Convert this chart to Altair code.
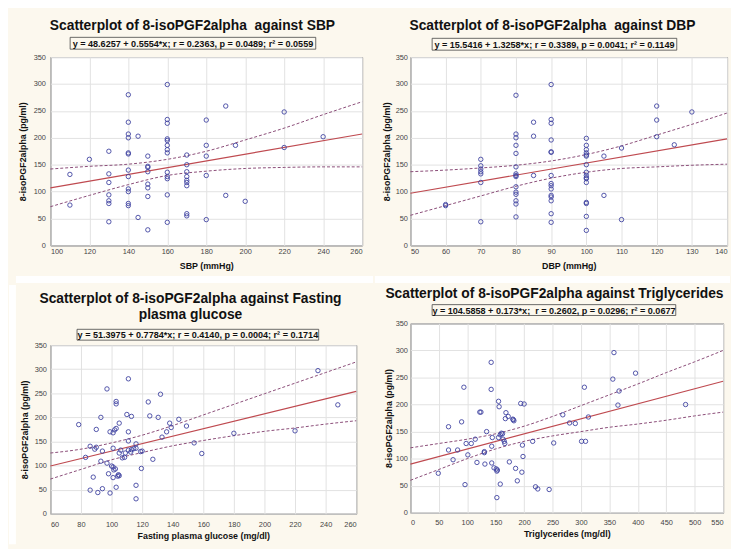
import altair as alt
import pandas as pd

FONT = "Liberation Sans"
CREAM = "#FCF8EE"
PT = "#3F43A0"
FIT = "#BF4A50"
CI = "#8A4C78"

y_ticks = [0, 50, 100, 150, 200, 250, 300, 350]

# ---- SBP panel ----
sbp_x = [110, 110, 120,
         130, 130, 130, 130, 130, 130, 130,
         140, 140, 140, 140, 140, 140, 140, 140, 140, 140, 140, 140,
         145, 145,
         150, 150, 150, 150, 150, 150, 150, 150,
         160, 160, 160, 160, 160, 160, 160, 160, 160, 160, 160, 160, 160,
         170, 170, 170, 170, 170, 170, 170, 170, 170,
         180, 180, 180, 180, 180,
         190, 190, 195, 200, 220, 220, 240]
sbp_y = [75, 132, 160,
         175, 133, 117, 94, 83, 78, 44,
         280, 229, 207, 200, 172, 170, 140, 128, 105, 100, 78, 74,
         203, 52,
         166, 147, 145, 137, 114, 107, 91, 29,
         299, 234, 227, 198, 195, 186, 178, 172, 136, 128, 124, 94, 43,
         168, 150, 137, 128, 121, 117, 111, 59, 55,
         233, 186, 166, 130, 48,
         259, 93, 186, 82, 248, 182, 202]
sbp_ticks = [100, 120, 140, 160, 180, 200, 220, 240, 260]
sbp_fit_x = [100, 260]
sbp_fit_y = [107, 207]
sbp_band_x = [100, 120, 140, 160, 180, 200, 220, 240, 260]
sbp_upper = [142, 147, 151, 160, 175, 196, 218, 243, 267]
sbp_lower = [72, 93, 113, 130, 138, 143, 145, 146, 146]

# ---- DBP panel ----
dbp_x = [60, 60,
         70, 70, 70, 70, 70, 70, 70,
         80, 80, 80, 80, 80, 80, 80, 80, 80, 80, 80, 80, 80, 80, 80,
         85, 85, 85,
         90, 90, 90, 90, 90, 90, 90, 90, 90, 90, 90, 90, 90, 90, 90,
         100, 100, 100, 100, 100, 100, 100, 100, 100, 100, 100, 100, 100, 100, 100, 100,
         105, 105, 110, 110, 120, 120, 120, 125, 130]
dbp_y = [74, 76,
         160, 148, 142, 137, 133, 117, 44,
         279, 207, 200, 186, 171, 146, 133, 130, 128, 109, 99, 95, 83, 77, 53,
         229, 203, 130,
         299, 234, 227, 196, 174, 173, 130, 115, 111, 105, 93, 90, 83, 59, 43,
         199, 186, 178, 172, 168, 166, 150, 136, 130, 126, 124, 117, 80, 78, 54, 28,
         166, 93, 181, 48, 259, 233, 202, 187, 248]
dbp_ticks = [50, 60, 70, 80, 90, 100, 110, 120, 130, 140]
dbp_fit_x = [50, 140]
dbp_fit_y = [97, 198]
dbp_band_x = [50, 60, 70, 80, 90, 100, 110, 120, 130, 140]
dbp_upper = [137, 140, 144, 149, 157, 169, 185, 205, 225, 246]
dbp_lower = [56, 74, 92, 110, 125, 136, 143, 146, 149, 151]

# ---- Fasting plasma glucose panel ----
fpg_x = [78.5, 83, 86, 86, 88, 89, 90, 90, 91, 93, 93, 94, 94, 97, 97, 98, 99, 99,
         100, 101, 101, 101, 101, 101.5, 102, 102.5, 103, 103, 103, 103, 104, 104.5,
         105, 105, 105, 106, 107, 108.5, 109, 110, 111, 111, 111, 111, 112.5, 113, 113,
         114.5, 116, 116, 116, 116, 119, 119.5, 120, 124, 125, 127, 130.5, 132, 133,
         136, 138, 139, 144, 149, 154, 159, 180, 220, 235, 248]
fpg_y = [185, 117, 49, 140, 76, 134, 138, 175, 44, 109, 200, 130, 52, 259, 105, 83, 170, 43,
         99, 97, 136, 168, 75, 91, 174, 93, 233, 228, 177, 55, 78, 81,
         188, 126, 79, 132, 116, 117, 126, 206, 132, 280, 170, 151, 128, 133, 202,
         135, 59, 145, 31, 136, 129, 94, 130, 232, 203, 113, 200, 248, 159,
         170, 188, 179, 196, 182, 147, 125, 167, 172, 297, 226]
fpg_ticks = [60, 80, 100, 120, 140, 160, 180, 200, 220, 240, 260]
fpg_fit_x = [60, 260]
fpg_fit_y = [99, 254]
fpg_band_x = [60, 80, 100, 120, 140, 160, 180, 200, 220, 240, 260]
fpg_upper = [126, 134, 147, 163, 183, 205, 227, 249, 271, 293, 315]
fpg_lower = [72, 92, 112, 127, 141, 152, 162, 171, 178, 186, 193]

# ---- Triglycerides panel ----
tg_x = [49, 67, 67, 75, 83, 90, 94, 96, 98, 101, 107, 114, 117, 122, 124, 130, 130, 131,
        134, 142, 142, 144, 143, 143, 147, 151, 152, 152, 153, 155, 155, 156, 158, 158,
        160, 162, 163, 165, 166, 168, 167, 172, 174, 180, 181, 182, 185, 188, 194, 196,
        197, 198, 200, 215, 220, 224, 244, 252, 268, 280, 290, 301, 308, 306, 313, 356,
        358, 367, 365, 396, 484]
tg_y = [73, 159, 116, 98, 116, 168, 232, 52, 128, 107, 128, 136, 93, 186, 186, 113, 111, 90,
        150, 278, 228, 139, 123, 92, 83, 81, 77, 28, 79, 139, 206, 196, 53, 144,
        147, 146, 136, 132, 128, 185, 174, 178, 94, 173, 172, 170, 82, 59, 202, 75,
        125, 104, 201, 132, 48, 44, 43, 129, 181, 166, 165, 132, 132, 232, 177, 247,
        296, 225, 199, 258, 200]
tg_ticks = [0, 50, 100, 150, 200, 250, 300, 350, 400, 450, 500, 550]
tg_fit_x = [0, 550]
tg_fit_y = [90, 243]
tg_band_x = [0, 50, 100, 150, 200, 250, 300, 350, 400, 450, 500, 550]
tg_upper = [120, 128, 136, 146, 160, 178, 198, 218, 238, 259, 279, 300]
tg_lower = [60, 80, 100, 118, 132, 142, 150, 158, 164, 171, 179, 186]

Y_TITLE = "8-isoPGF2alpha (pg/ml)"


def panel(px, py, xdom, xticks, fitx, fity, bx, bup, blo, W, H, L, T, R, B,
          titles, title_cx, title_ys, eq, box, xtitle,
          xlabpad, xtitlepad, ylabpad, ytitlepad, gap_bottom=0, gap_left=0):
    pts = pd.DataFrame({"x": px, "y": py})
    fit = pd.DataFrame({"x": fitx, "y": fity})
    band = pd.DataFrame({"x": bx + bx, "y": bup + blo,
                         "band": ["upper"] * len(bx) + ["lower"] * len(bx)})
    one = pd.DataFrame({"k": [0]})

    xs = alt.Scale(domain=xdom, nice=False, zero=False)
    ys = alt.Scale(domain=[0, 350], nice=False)
    common = dict(grid=True, gridColor="#E2E2E2", gridWidth=1, domain=False,
                  ticks=False, tickSize=0, format="d", minExtent=0,
                  labelFont=FONT, labelFontSize=7.5, labelColor="#444",
                  titleFont=FONT, titleFontSize=9, titleFontWeight="bold",
                  titleColor="#111")
    xaxis = alt.Axis(values=xticks, title=xtitle, labelPadding=xlabpad,
                     titlePadding=xtitlepad, **common)
    yaxis = alt.Axis(values=y_ticks, title=Y_TITLE, labelPadding=ylabpad,
                     titlePadding=ytitlepad, **common)
    X = alt.X("x:Q", scale=xs, axis=xaxis)
    Y = alt.Y("y:Q", scale=ys, axis=yaxis)

    layers = []
    # tiny background-coloured corners that fix the panel's outer bounds
    layers.append(alt.Chart(one).mark_rect(color=CREAM).encode(
        x=alt.value(-L), x2=alt.value(-L + 1), y=alt.value(-T), y2=alt.value(-T + 1)))
    layers.append(alt.Chart(one).mark_rect(color=CREAM).encode(
        x=alt.value(W + R - 1), x2=alt.value(W + R), y=alt.value(H + B - 1), y2=alt.value(H + B)))
    if gap_bottom:
        layers.append(alt.Chart(one).mark_rect(color="white").encode(
            x=alt.value(-L), x2=alt.value(W + R), y=alt.value(H + B),
            y2=alt.value(H + B + gap_bottom)))
    if gap_left:
        layers.append(alt.Chart(one).mark_rect(color="white").encode(
            x=alt.value(-L - gap_left), x2=alt.value(-L), y=alt.value(-T),
            y2=alt.value(H + B)))

    layers.append(alt.Chart(band).mark_line(
        strokeDash=[3, 2], color=CI, strokeWidth=1, interpolate="monotone"
    ).encode(x=X, y=Y, detail="band:N"))
    layers.append(alt.Chart(fit).mark_line(color=FIT, strokeWidth=1.2).encode(x=X, y=Y))
    layers.append(alt.Chart(pts).mark_point(
        shape="circle", filled=False, size=20, strokeWidth=0.9, color=PT, opacity=1
    ).encode(x=X, y=Y))

    # equation box
    layers.append(alt.Chart(one).mark_rect(fill=CREAM, stroke="#444", strokeWidth=0.8).encode(
        x=alt.value(box[0]), x2=alt.value(box[1]), y=alt.value(box[2]), y2=alt.value(box[3])))
    layers.append(alt.Chart(pd.DataFrame({"t": [eq]})).mark_text(
        font=FONT, fontSize=9.2, fontWeight="bold", color="#111",
        align="center", baseline="middle"
    ).encode(x=alt.value((box[0] + box[1]) / 2), y=alt.value((box[2] + box[3]) / 2 + 0.5),
             text="t:N"))
    # title lines
    for t, ty in zip(titles, title_ys):
        layers.append(alt.Chart(pd.DataFrame({"t": [t]})).mark_text(
            font=FONT, fontSize=14, fontWeight="bold", color="#111",
            align="center", baseline="middle"
        ).encode(x=alt.value(title_cx), y=alt.value(ty), text="t:N"))

    return alt.layer(*layers).properties(width=W, height=H)


p1 = panel(sbp_x, sbp_y, [100, 260], sbp_ticks, sbp_fit_x, sbp_fit_y,
           sbp_band_x, sbp_upper, sbp_lower,
           W=316, H=191, L=35, T=45, R=11, B=31,
           titles=["Scatterplot of 8-isoPGF2alpha\u00a0 against SBP"], title_cx=144,
           title_ys=[-31],
           eq="y = 48.6257 + 0.5554*x; r = 0.2363, p = 0.0489; r² = 0.0559",
           box=[20, 269, -20, -8], xtitle="SBP (mmHg)",
           xlabpad=2, xtitlepad=7, ylabpad=5, ytitlepad=6, gap_bottom=7)

p2 = panel(dbp_x, dbp_y, [50, 140], dbp_ticks, dbp_fit_x, dbp_fit_y,
           dbp_band_x, dbp_upper, dbp_lower,
           W=321, H=191, L=36, T=45, R=3, B=31,
           titles=["Scatterplot of 8-isoPGF2alpha\u00a0 against DBP"], title_cx=144,
           title_ys=[-31],
           eq="y = 15.5416 + 1.3258*x; r = 0.3389, p = 0.0041; r² = 0.1149",
           box=[22, 270, -19, -7], xtitle="DBP (mmHg)",
           xlabpad=2, xtitlepad=7, ylabpad=3, ytitlepad=4, gap_bottom=7)

p3 = panel(fpg_x, fpg_y, [60, 260], fpg_ticks, fpg_fit_x, fpg_fit_y,
           fpg_band_x, fpg_upper, fpg_lower,
           W=310, H=171, L=35, T=61, R=10, B=31,
           titles=["Scatterplot of 8-isoPGF2alpha against Fasting", "plasma glucose"],
           title_cx=142, title_ys=[-47, -30],
           eq="y = 51.3975 + 0.7784*x; r = 0.4140, p = 0.0004; r² = 0.1714",
           box=[27, 272, -16, -5], xtitle="Fasting plasma glucose (mg/dl)",
           xlabpad=7, xtitlepad=4, ylabpad=4, ytitlepad=5, gap_left=7)

p4 = panel(tg_x, tg_y, [0, 550], tg_ticks, tg_fit_x, tg_fit_y,
           tg_band_x, tg_upper, tg_lower,
           W=317, H=192, L=36, T=39, R=6, B=32,
           titles=["Scatterplot of 8-isoPGF2alpha against Triglycerides"], title_cx=146,
           title_ys=[-30],
           eq="y = 104.5858 + 0.173*x;\u00a0 r = 0.2602, p = 0.0296; r² = 0.0677",
           box=[22, 269, -19, -8], xtitle="Triglycerides (mg/dl)",
           xlabpad=6, xtitlepad=4, ylabpad=3, ytitlepad=2)

chart = alt.concat(
    p1, p2, p3, p4, columns=2, spacing=0
).properties(padding=0, background=CREAM, align="none").configure_view(
    fill="white", stroke="#333", strokeWidth=1
)

chart.save("out.html", embed_options={"renderer": "svg", "actions": False})
